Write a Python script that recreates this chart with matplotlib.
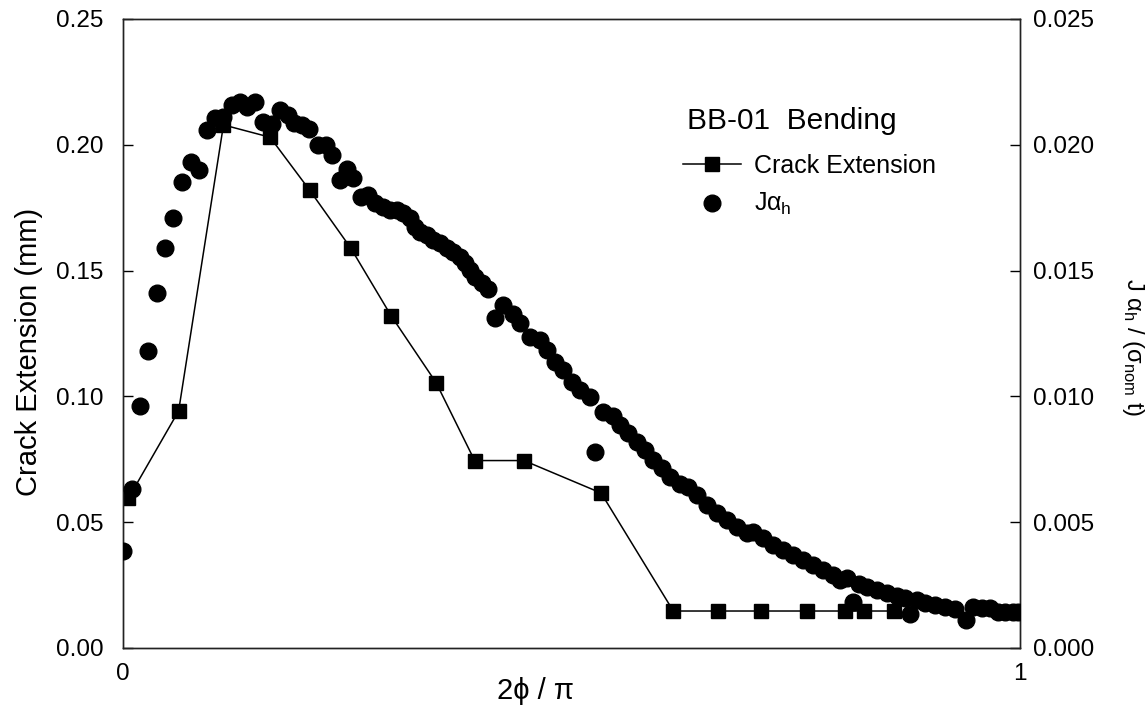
import matplotlib
matplotlib.use("Agg")
import matplotlib.pyplot as plt

plt.rcParams['font.family'] = ['Liberation Sans', 'DejaVu Sans']
plt.rcParams['mathtext.fontset'] = 'custom'
plt.rcParams['mathtext.rm'] = 'Liberation Sans'
plt.rcParams['mathtext.it'] = 'Liberation Sans'
plt.rcParams['mathtext.bf'] = 'Liberation Sans:bold'

# Normalised crack-front angle 2*phi/pi and measured crack extension (mm)
crack_x = [0.006, 0.062, 0.112, 0.164, 0.208, 0.254, 0.299, 0.349, 0.392,
           0.447, 0.533, 0.6135, 0.663, 0.711, 0.762, 0.805, 0.826, 0.860]
crack_ext = [0.0595, 0.0942, 0.2079, 0.2030, 0.1820, 0.1589, 0.1320, 0.1055,
             0.0745, 0.0745, 0.0616, 0.0147, 0.0147, 0.0147, 0.0147, 0.0147,
             0.0147, 0.0147]

# Normalised J-integral along the crack front
j_x = [0.0000, 0.0097, 0.0190, 0.0282, 0.0376, 0.0468, 0.0561, 0.0654, 0.0758,
       0.0851, 0.0933, 0.1026, 0.1118, 0.1212, 0.1304, 0.1379, 0.1472, 0.1564,
       0.1658, 0.1750, 0.1843, 0.1906, 0.1992, 0.2074, 0.2177, 0.2263, 0.2330,
       0.2414, 0.2494, 0.2567, 0.2653, 0.2735, 0.2809, 0.2902, 0.2977, 0.3051,
       0.3125, 0.3200, 0.3255, 0.3311, 0.3386, 0.3459, 0.3534, 0.3609, 0.3682,
       0.3757, 0.3813, 0.3868, 0.3924, 0.3999, 0.4064, 0.4147, 0.4240, 0.4351,
       0.4426, 0.4537, 0.4649, 0.4724, 0.4816, 0.4909, 0.5002, 0.5095, 0.5206,
       0.5262, 0.5355, 0.5466, 0.5541, 0.5633, 0.5727, 0.5819, 0.5912, 0.6006,
       0.6098, 0.6210, 0.6302, 0.6396, 0.6507, 0.6619, 0.6730, 0.6842, 0.6953,
       0.7027, 0.7138, 0.7250, 0.7361, 0.7473, 0.7584, 0.7696, 0.7807, 0.7919,
       0.7993, 0.8068, 0.8142, 0.8205, 0.8291, 0.8402, 0.8514, 0.8625, 0.8718,
       0.8774, 0.8848, 0.8941, 0.9052, 0.9164, 0.9275, 0.9398, 0.9480, 0.9573,
       0.9666, 0.9758, 0.9833, 0.9925, 0.9978]
j_val = [3.87, 6.31, 9.62, 11.79, 14.10, 15.91, 17.10, 18.51, 19.33,
         19.00, 20.59, 21.05, 21.12, 21.58, 21.71, 21.49, 21.71, 20.92,
         20.83, 21.38, 21.18, 20.87, 20.79, 20.63, 19.99, 19.99, 19.59,
         18.60, 19.04, 18.70, 17.93, 18.02, 17.67, 17.54, 17.39, 17.41,
         17.30, 17.08, 16.75, 16.55, 16.41, 16.22, 16.08, 15.89, 15.75,
         15.55, 15.29, 15.02, 14.76, 14.50, 14.27, 13.10, 13.63, 13.28,
         12.90, 12.37, 12.24, 11.84, 11.38, 11.05, 10.58, 10.25, 9.99,
         7.80, 9.39, 9.22, 8.86, 8.53, 8.20, 7.87, 7.47, 7.14,
         6.81, 6.52, 6.41, 6.08, 5.68, 5.35, 5.09, 4.82, 4.56,
         4.62, 4.36, 4.09, 3.90, 3.70, 3.50, 3.30, 3.10, 2.90,
         2.70, 2.80, 1.84, 2.54, 2.42, 2.31, 2.19, 2.07, 1.97,
         1.35, 1.91, 1.79, 1.71, 1.63, 1.55, 1.11, 1.61, 1.58,
         1.58, 1.43, 1.43, 1.43, 1.43]
j_val = [v * 1e-3 for v in j_val]

left_ticks = [0.00, 0.05, 0.10, 0.15, 0.20, 0.25]
left_labels = ['0.00', '0.05', '0.10', '0.15', '0.20', '0.25']
right_ticks = [0.000, 0.005, 0.010, 0.015, 0.020, 0.025]
right_labels = ['0.000', '0.005', '0.010', '0.015', '0.020', '0.025']
x_ticks = [0, 1]
x_labels = ['0', '1']

W, H = 1147, 728
fig = plt.figure(figsize=(W / 100, H / 100), dpi=100)
ax = fig.add_axes([123 / W, 1 - 648 / H, (1020 - 123) / W, (648 - 19) / H])
ax2 = ax.twinx()

line_sq, = ax.plot(crack_x, crack_ext, color='black', lw=1.1, marker='s',
                   markersize=10.5, markerfacecolor='black',
                   markeredgecolor='black', label='Crack Extension', zorder=3)
dots, = ax2.plot(j_x, j_val, linestyle='none', marker='o', markersize=12,
                 markerfacecolor='black', markeredgecolor='black',
                 label=r'J$\alpha_{\mathrm{h}}$', zorder=4)

ax.set_xlim(0, 1)
ax.set_ylim(0, 0.25)
ax2.set_ylim(0, 0.025)

ax.set_xticks(x_ticks)
ax.set_xticklabels(x_labels)
ax.set_yticks(left_ticks)
ax.set_yticklabels(left_labels)
ax2.set_yticks(right_ticks)
ax2.set_yticklabels(right_labels)

for a in (ax, ax2):
    a.tick_params(direction='in', length=7, width=1.0, labelsize=17.5,
                  colors='black')
    for s in a.spines.values():
        s.set_linewidth(1.0)
        s.set_color('#222222')
ax.tick_params(axis='y', pad=14)
ax2.tick_params(axis='y', pad=9)
ax.tick_params(axis='x', length=0, pad=11)

# Axis titles placed in figure pixel coordinates
def px(x, y):
    return x / W, 1 - y / H

fig.text(*px(535, 691), '2ϕ / π', fontsize=21, ha='center', va='center')
fig.text(*px(29, 352), 'Crack Extension (mm)', fontsize=21, rotation=90,
         ha='center', va='center')
fig.text(*px(1133, 347),
         r'J $\alpha_{\mathrm{h}}$ / ($\sigma_{\mathrm{nom}}$ t)',
         fontsize=17, rotation=270, ha='center', va='center')

fig.text(*px(687, 121), 'BB-01  Bending', fontsize=21.5, ha='left',
         va='center')
leg = ax2.legend(handles=[line_sq, dots], loc='upper left',
                 bbox_to_anchor=px(683, 154), bbox_transform=fig.transFigure,
                 frameon=False, fontsize=18, borderpad=0, borderaxespad=0,
                 handlelength=2.3, handletextpad=0.55, labelspacing=0.53)
leg.set_zorder(10)

fig.savefig('out.png', dpi=100)
